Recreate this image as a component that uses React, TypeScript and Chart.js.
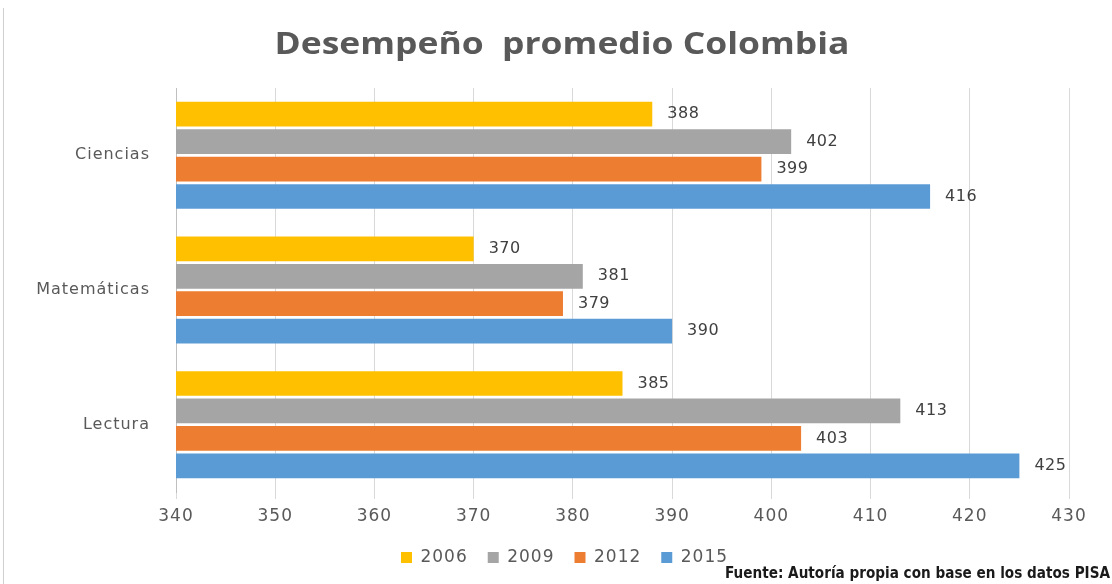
import React, { useEffect, useRef } from 'react';
import { Chart, registerables } from 'chart.js';

Chart.register(...registerables);

const categories = ['Ciencias', 'Matemáticas', 'Lectura'];
const seriesNames = ['2006', '2009', '2012', '2015'];
const values2006 = [388, 370, 385];
const values2009 = [402, 381, 413];
const values2012 = [399, 379, 403];
const values2015 = [416, 390, 425];
const seriesColors = ['#FFC000', '#A5A5A5', '#ED7D31', '#5B9BD5'];
const xMin = 340;
const xMax = 430;
const xStep = 10;
const titleText = 'Desempeño  promedio Colombia';
const footnoteText = 'Fuente: Autoría propia con base en los datos PISA';

const W = 1112;
const H = 584;

const spacingPlugin = {
  id: 'spacing',
  beforeUpdate(chart: any) {
    chart.ctx.letterSpacing = '1px';
  },
  afterLayout(chart: any) {
    if (chart.legend) {
      chart.legend.left = 60;
      chart.legend.width = chart.legend.right - 60;
    }
  },
  beforeDraw(chart: any) {
    chart.ctx.letterSpacing = '1px';
  },
};

const overlayPlugin = {
  id: 'overlay',
  afterDatasetsDraw(chart: any) {
    const ctx = chart.ctx;
    ctx.save();
    ctx.letterSpacing = '0.5px';
    ctx.font = '16px "DejaVu Sans"';
    ctx.fillStyle = '#404040';
    ctx.textBaseline = 'middle';
    ctx.textAlign = 'left';
    chart.data.datasets.forEach((ds: any, i: number) => {
      const meta = chart.getDatasetMeta(i);
      meta.data.forEach((bar: any, j: number) => {
        ctx.fillText(String(ds.data[j]), bar.x + 15, bar.y);
      });
    });
    ctx.restore();
  },
  afterDraw(chart: any) {
    const ctx = chart.ctx;
    // title
    ctx.save();
    ctx.letterSpacing = '0px';
    ctx.font = 'bold 30px "Open Sans"';
    ctx.fillStyle = '#595959';
    ctx.textBaseline = 'middle';
    ctx.textAlign = 'center';
    const tw = ctx.measureText(titleText).width;
    ctx.translate(562, 45);
    ctx.scale(575 / tw, 1);
    ctx.fillText(titleText, 0, 0);
    ctx.restore();
    // footnote
    ctx.save();
    ctx.letterSpacing = '0px';
    ctx.font = 'bold 15px "DejaVu Sans Condensed", "DejaVu Sans"';
    ctx.fillStyle = '#1a1a1a';
    ctx.textBaseline = 'middle';
    ctx.textAlign = 'right';
    const fw = ctx.measureText(footnoteText).width;
    ctx.translate(1110, 574);
    ctx.scale(385 / fw, 1);
    ctx.fillText(footnoteText, 0, 0);
    ctx.restore();
    // left frame line
    ctx.save();
    ctx.strokeStyle = '#D0D0D0';
    ctx.lineWidth = 1;
    ctx.beginPath();
    ctx.moveTo(3.5, 8);
    ctx.lineTo(3.5, H);
    ctx.stroke();
    ctx.restore();
  },
};

export default function App() {
  const ref = useRef<HTMLCanvasElement | null>(null);

  useEffect(() => {
    if (!ref.current) return;
    const seriesValues = [values2006, values2009, values2012, values2015];
    const chart = new Chart(ref.current, {
      type: 'bar',
      data: {
        labels: categories,
        datasets: seriesNames.map((name, i) => ({
          label: name,
          data: seriesValues[i],
          backgroundColor: seriesColors[i],
          borderWidth: 0,
          categoryPercentage: 0.815,
          barPercentage: 0.9,
        })),
      },
      options: {
        indexAxis: 'y',
        responsive: false,
        animation: false,
        devicePixelRatio: 1,
        layout: { padding: { top: 88, right: 43, bottom: 8, left: 0 } },
        plugins: {
          title: { display: false },
          tooltip: { enabled: false },
          legend: {
            display: true,
            position: 'bottom',
            labels: {
              boxWidth: 11,
              boxHeight: 11,
              padding: 20,
              color: '#595959',
              font: { family: '"DejaVu Sans"', size: 17 },
            },
          },
        },
        scales: {
          x: {
            type: 'linear',
            min: xMin,
            max: xMax,
            ticks: {
              stepSize: xStep,
              color: '#595959',
              font: { family: '"DejaVu Sans"', size: 17 },
              padding: 7,
            },
            grid: {
              color: '#D9D9D9',
              drawTicks: true,
              tickLength: 7,
            },
            border: { display: false },
            afterFit: (s: any) => {
              s.height = 37;
            },
          },
          y: {
            type: 'category',
            ticks: {
              color: '#595959',
              font: { family: '"DejaVu Sans"', size: 16 },
              padding: 18,
            },
            grid: { display: false },
            border: { display: true, color: '#BFBFBF' },
            afterFit: (s: any) => {
              s.width = 176;
            },
          },
        },
      },
      plugins: [spacingPlugin, overlayPlugin],
    } as any);
    return () => chart.destroy();
  }, []);

  return (
    <div style={{ position: 'fixed', left: 0, top: 0, width: W, height: H, background: '#fff' }}>
      <canvas ref={ref} width={W} height={H} style={{ width: W, height: H, display: 'block' }} />
    </div>
  );
}
